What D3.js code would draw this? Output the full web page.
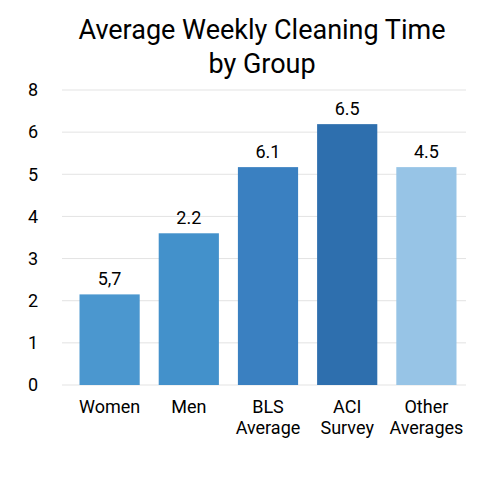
<!DOCTYPE html>
<html><head><meta charset="utf-8">
<script src="https://cdn.jsdelivr.net/npm/d3@7"></script>
<style>body{margin:0;background:#fff}text{font-family:Roboto,"Noto Sans",sans-serif}</style>
</head><body><div id="chart"></div>
<script>
// Chart data
const categories = ["Women", "Men", "BLS\nAverage", "ACI\nSurvey", "Other\nAverages"];
const values = [2.15, 3.6, 5.17, 6.19, 5.17];
const valueLabels = ["5,7", "2.2", "6.1", "6.5", "4.5"];
const tickValues = [0, 1, 2, 3, 4, 5, 6, 7];
const tickLabels = ["0", "1", "2", "3", "4", "5", "6", "8"];
const colors = ["#4b97cf", "#4391cb", "#3a80c1", "#2e6fae", "#97c4e6"];

const width = 480, height = 480;
const margin = {top: 90, right: 14, bottom: 95, left: 70};

const svg = d3.select("#chart").append("svg")
    .attr("width", width).attr("height", height);

const x = d3.scaleBand().domain(categories)
    .range([margin.left, width - margin.right]).paddingInner(0.24).paddingOuter(0.12);
const y = d3.scaleLinear().domain([0, 7]).range([height - margin.bottom, margin.top]);

// Title
svg.append("text").attr("x", 262).attr("y", 39).attr("text-anchor", "middle")
    .attr("font-size", 27).text("Average Weekly Cleaning Time");
svg.append("text").attr("x", 262).attr("y", 73).attr("text-anchor", "middle")
    .attr("font-size", 27).text("by Group");

// Gridlines and y labels
svg.append("g").selectAll("line").data(tickValues).enter().append("line")
    .attr("x1", 62).attr("x2", width - margin.right)
    .attr("y1", d => y(d)).attr("y2", d => y(d))
    .attr("stroke", "#e3e3e3");
svg.append("g").selectAll("text").data(tickValues).enter().append("text")
    .attr("x", 38).attr("y", d => y(d)).attr("dy", "0.35em")
    .attr("text-anchor", "end").attr("font-size", 18)
    .text((d, i) => tickLabels[i]);

// Bars
svg.append("g").selectAll("rect").data(values).enter().append("rect")
    .attr("x", (d, i) => x(categories[i])).attr("width", x.bandwidth())
    .attr("y", d => y(d)).attr("height", d => y(0) - y(d))
    .attr("fill", (d, i) => colors[i]);

// Value labels
svg.append("g").selectAll("text").data(values).enter().append("text")
    .attr("x", (d, i) => x(categories[i]) + x.bandwidth() / 2)
    .attr("y", d => y(d) - 9).attr("text-anchor", "middle").attr("font-size", 18)
    .text((d, i) => valueLabels[i]);

// Category labels
const cat = svg.append("g").selectAll("text").data(categories).enter().append("text")
    .attr("x", d => x(d) + x.bandwidth() / 2).attr("y", y(0) + 28)
    .attr("text-anchor", "middle").attr("font-size", 18);
cat.each(function(d) {
    d.split("\n").forEach((line, i) => {
        d3.select(this).append("tspan")
            .attr("x", x(d) + x.bandwidth() / 2).attr("dy", i ? 21 : 0).text(line);
    });
});
</script></body></html>
